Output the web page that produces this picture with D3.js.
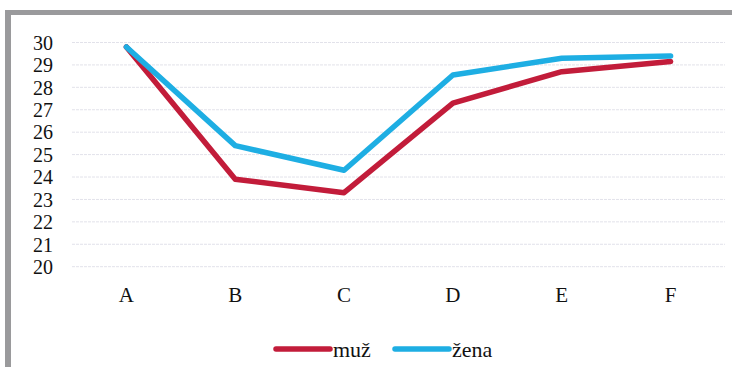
<!DOCTYPE html>
<html><head><meta charset="utf-8">
<script src="https://cdn.jsdelivr.net/npm/d3@7"></script>
<style>body{margin:0;background:#fff}svg{display:block}
svg text{font-family:"Liberation Serif","Times New Roman",serif !important;fill:#111}</style>
</head><body>
<svg id="c" width="732" height="367"></svg>
<script>
const categories = ["A","B","C","D","E","F"];
const muz  = [29.8, 23.9, 23.3, 27.3, 28.7, 29.15];
const zena = [29.8, 25.4, 24.3, 28.55, 29.3, 29.4];
const yTicks = [20,21,22,23,24,25,26,27,28,29,30];
const seriesNames = ["muž","žena"];
const colors = ["#c21c3a","#1eaee3"];

const svg = d3.select("#c");
// frame
svg.append("rect").attr("x",5).attr("y",10).attr("width",727).attr("height",5).attr("fill","#9a9a9c");
svg.append("rect").attr("x",5).attr("y",10).attr("width",6).attr("height",357).attr("fill","#9a9a9c");

const x = d3.scaleBand().domain(categories).range([72,725]);
const y = d3.scaleLinear().domain([20,30]).range([266.7,42.5]);

const grid = svg.append("g");
grid.selectAll("line").data(yTicks).join("line")
  .attr("x1",72).attr("x2",725).attr("y1",d=>y(d)).attr("y2",d=>y(d))
  .attr("stroke","#e2e2ea").attr("stroke-width",1).attr("stroke-dasharray","3,1");

const yAxis = svg.append("g").attr("transform","translate(53,0)")
  .call(d3.axisLeft(y).tickValues(yTicks).tickSize(0).tickPadding(0));
yAxis.select(".domain").remove();
yAxis.attr("font-family",null).attr("font-size",null);
yAxis.selectAll("text").style("font-size","20px").attr("dy","0.34em");

const xAxis = svg.append("g").attr("transform","translate(0,279)")
  .call(d3.axisBottom(x).tickSize(0).tickPadding(8));
xAxis.select(".domain").remove();
xAxis.attr("font-family",null).attr("font-size",null);
xAxis.selectAll("text").style("font-size","21px");

const line = d3.line().x((d,i)=>x(categories[i])+x.bandwidth()/2).y(d=>y(d));
[muz,zena].forEach((s,k)=>{
  svg.append("path").attr("d",line(s)).attr("fill","none")
    .attr("stroke",colors[k]).attr("stroke-width",5.5)
    .attr("stroke-linejoin","round").attr("stroke-linecap","round");
});

// legend
const lx = [276, 395];
seriesNames.forEach((n,k)=>{
  svg.append("line").attr("x1",lx[k]).attr("x2",lx[k]+54).attr("y1",349).attr("y2",349)
    .attr("stroke",colors[k]).attr("stroke-width",5.5).attr("stroke-linecap","round");
  svg.append("text").attr("x",lx[k]+57).attr("y",357).text(n).style("font-size","22px");
});
</script>
</body></html>
